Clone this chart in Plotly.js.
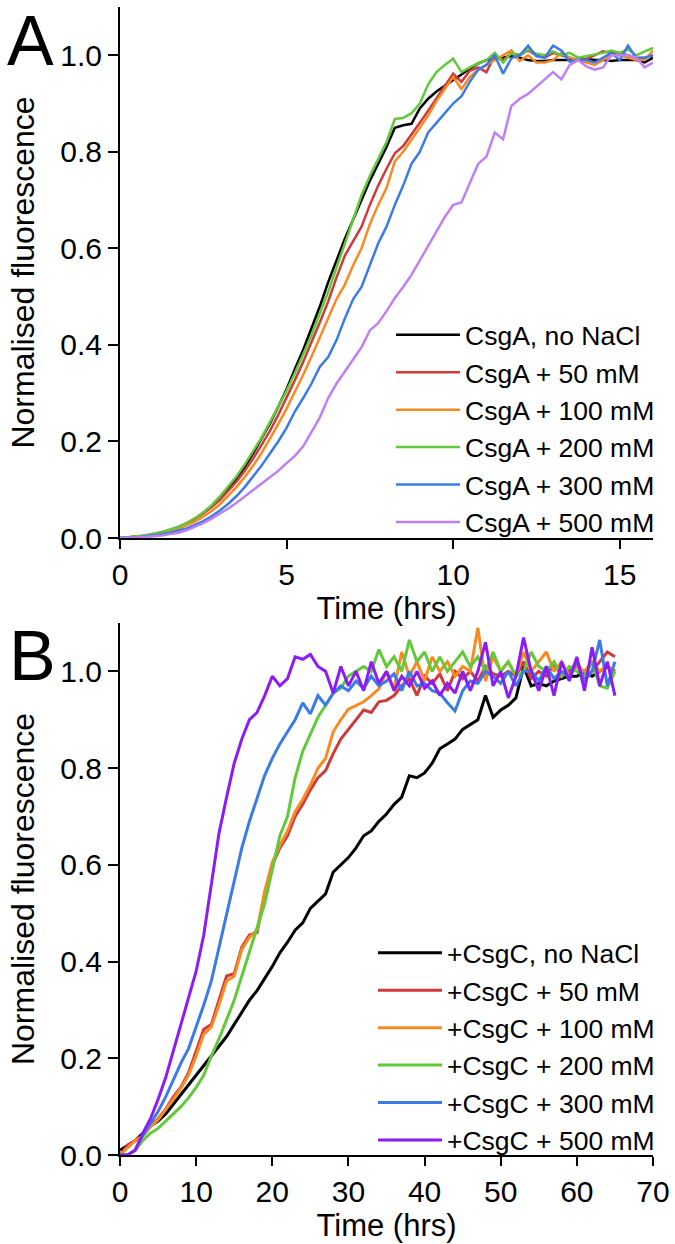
<!DOCTYPE html>
<html>
<head>
<meta charset="utf-8">
<script src="https://cdn.plot.ly/plotly-3.0.1.min.js"></script>
<style>
  body { margin: 0; background: #fff; }
  #chart { width: 675px; height: 1244px; }
</style>
</head>
<body>
<div id="chart"></div>
<script>
// ---- Panel A: CsgA with NaCl (time in hrs) ----
const timeA = [0,0.25,0.5,0.75,1,1.25,1.5,1.75,2,2.25,2.5,2.75,3,3.25,3.5,3.75,4,4.25,4.5,4.75,
  5,5.25,5.5,5.75,6,6.25,6.5,6.75,7,7.25,7.5,7.75,8,8.25,8.5,8.75,9,9.25,9.5,9.75,
  10,10.25,10.5,10.75,11,11.25,11.5,11.75,12,12.25,12.5,12.75,13,13.25,13.5,13.75,14,14.25,14.5,14.75,
  15,15.25,15.5,15.75,16];

const csgA_none = [0,0.001,0.002,0.004,0.007,0.011,0.016,0.022,0.030,0.040,
  0.052,0.066,0.083,0.102,0.123,0.148,0.176,0.205,0.237,0.272,
  0.308,0.35,0.39,0.435,0.48,0.53,0.575,0.62,0.66,0.70,
  0.74,0.775,0.81,0.85,0.855,0.858,0.89,0.91,0.925,0.937,
  0.948,0.96,0.972,0.983,0.99,0.993,0.995,0.998,0.995,0.99,
  0.988,0.988,0.99,0.99,0.99,0.99,0.992,0.99,0.99,0.988,
  0.99,0.99,0.99,0.985,0.995];
const csgA_50 = [0,0.001,0.003,0.005,0.008,0.012,0.017,0.023,0.031,0.04,
  0.051,0.064,0.079,0.097,0.117,0.14,0.165,0.193,0.222,0.255,
  0.29,0.327,0.365,0.405,0.447,0.49,0.54,0.585,0.615,0.645,
  0.69,0.73,0.765,0.797,0.812,0.835,0.86,0.885,0.91,0.935,
  0.962,0.945,0.968,0.975,0.965,1.0,0.99,1.005,1.0,1.01,
  1.0,0.995,1.005,1.0,0.995,0.99,0.992,1.0,1.008,1.005,
  1.005,1.0,0.995,0.995,1.0];
const csgA_100 = [0,0.001,0.002,0.004,0.007,0.01,0.014,0.019,0.026,0.034,
  0.044,0.056,0.07,0.087,0.106,0.127,0.15,0.176,0.205,0.236,
  0.268,0.302,0.338,0.376,0.415,0.455,0.495,0.525,0.565,0.6,
  0.65,0.69,0.725,0.78,0.80,0.825,0.851,0.875,0.905,0.93,
  0.955,0.93,0.955,0.97,0.98,0.99,1.0,1.01,0.988,1.0,
  0.985,0.985,0.99,1.005,0.995,0.99,0.985,0.98,0.99,1.0,
  1.0,0.995,0.99,0.99,1.01];
const csgA_200 = [0,0.001,0.003,0.005,0.008,0.012,0.017,0.023,0.031,0.041,
  0.053,0.068,0.086,0.106,0.128,0.153,0.18,0.208,0.24,0.272,
  0.305,0.342,0.38,0.42,0.465,0.51,0.56,0.61,0.66,0.71,
  0.75,0.785,0.82,0.868,0.87,0.88,0.90,0.94,0.965,0.98,
  0.993,0.965,0.975,0.983,0.99,1.005,0.985,1.005,1.0,1.012,
  1.003,1.0,1.008,1.0,1.005,0.995,0.998,1.002,1.005,1.01,
  1.005,1.012,1.0,1.008,1.015];
const csgA_300 = [0,0,0.001,0.003,0.005,0.008,0.011,0.015,0.02,0.027,
  0.035,0.045,0.057,0.071,0.087,0.106,0.127,0.15,0.175,0.2,
  0.228,0.262,0.29,0.32,0.355,0.375,0.41,0.455,0.495,0.52,
  0.565,0.61,0.645,0.69,0.73,0.775,0.8,0.84,0.86,0.88,
  0.90,0.915,0.945,0.97,0.98,1.0,0.962,0.994,1.0,1.02,
  0.998,0.995,1.02,1.01,0.987,0.99,0.99,0.985,0.995,1.005,
  0.99,1.02,0.994,0.995,1.0];
const csgA_500 = [0,0,0.001,0.002,0.003,0.005,0.008,0.011,0.016,0.023,
  0.031,0.04,0.05,0.061,0.073,0.086,0.1,0.113,0.126,0.139,
  0.155,0.17,0.19,0.22,0.25,0.29,0.32,0.345,0.37,0.395,
  0.43,0.445,0.47,0.497,0.52,0.545,0.575,0.605,0.635,0.665,
  0.69,0.695,0.735,0.775,0.79,0.84,0.826,0.895,0.91,0.92,
  0.935,0.95,0.965,0.95,0.98,0.99,0.977,0.97,0.975,1.0,
  1.0,1.0,0.995,0.975,0.985];

// ---- Panel B: CsgA + CsgC with NaCl ----
const timeB = [0,1,2,3,4,5,6,7,8,9,10,11,12,13,14,15,16,17,18,19,
  20,21,22,23,24,25,26,27,28,29,30,31,32,33,34,35,36,37,38,39,
  40,41,42,43,44,45,46,47,48,49,50,51,52,53,54,55,56,57,58,59,
  60,61,62,63,64,65];

const csgC_none = [0.01,0.02,0.03,0.045,0.06,0.07,0.085,0.105,0.125,0.145,
  0.165,0.185,0.205,0.225,0.245,0.27,0.295,0.32,0.34,0.365,
  0.39,0.418,0.44,0.465,0.48,0.51,0.525,0.54,0.585,0.6,
  0.615,0.635,0.66,0.67,0.69,0.705,0.725,0.74,0.784,0.78,
  0.79,0.81,0.84,0.85,0.86,0.88,0.89,0.9,0.95,0.905,
  0.92,0.93,0.945,1.01,0.97,0.975,0.97,0.98,0.985,0.99,
  0.99,1.0,0.99,1.0,1.01,1.0];
const csgC_50 = [0,0.02,0.03,0.04,0.06,0.075,0.095,0.12,0.14,0.17,
  0.215,0.26,0.27,0.32,0.37,0.375,0.43,0.455,0.46,0.54,
  0.6,0.635,0.66,0.7,0.725,0.755,0.78,0.795,0.83,0.86,
  0.88,0.9,0.92,0.915,0.937,0.94,0.95,0.97,0.985,0.95,
  0.99,0.975,0.995,0.96,1.0,0.985,1.0,0.98,1.01,0.995,
  0.99,1.0,0.99,1.02,0.985,1.0,0.99,1.015,0.99,1.0,
  1.02,0.99,1.0,1.02,1.04,1.03];
const csgC_100 = [0,0.015,0.03,0.04,0.058,0.073,0.093,0.115,0.138,0.165,
  0.205,0.25,0.265,0.31,0.36,0.37,0.425,0.45,0.465,0.545,
  0.605,0.64,0.67,0.71,0.735,0.765,0.8,0.82,0.875,0.9,
  0.922,0.93,0.937,0.95,0.964,1.0,0.964,1.04,0.99,1.02,
  0.98,1.03,1.0,1.02,0.99,1.01,1.0,1.09,0.98,1.03,
  1.0,1.02,0.99,1.04,1.0,1.02,1.04,1.0,1.02,0.99,
  1.01,1.0,1.02,1.0,1.01,1.0];
const csgC_200 = [0,0,0.01,0.03,0.045,0.055,0.07,0.085,0.1,0.118,
  0.14,0.165,0.205,0.24,0.28,0.32,0.37,0.42,0.47,0.52,
  0.59,0.66,0.70,0.78,0.835,0.87,0.905,0.93,0.955,0.965,
  0.99,1.0,1.01,1.0,1.045,1.01,1.03,1.0,1.065,1.02,
  1.04,1.0,1.03,1.0,1.02,1.04,1.01,1.03,1.0,1.04,
  1.0,1.02,0.99,1.0,1.04,1.01,1.0,1.02,0.99,1.01,
  1.0,0.99,1.02,0.97,0.965,1.0];
const csgC_300 = [0,0,0.01,0.04,0.065,0.09,0.12,0.155,0.19,0.22,
  0.265,0.31,0.36,0.43,0.5,0.57,0.635,0.69,0.74,0.785,
  0.82,0.85,0.875,0.9,0.935,0.912,0.95,0.93,0.955,0.97,
  0.96,0.98,0.965,0.99,0.97,0.98,0.995,0.96,1.0,0.97,
  0.975,0.96,0.955,0.935,0.918,0.96,0.98,0.975,1.0,0.99,
  0.975,1.0,0.97,1.0,1.0,0.98,1.01,0.985,1.0,0.99,
  1.02,0.98,1.0,1.065,0.97,1.02];
const csgC_500 = [0,0,0.01,0.045,0.075,0.115,0.16,0.215,0.27,0.32,
  0.38,0.455,0.56,0.665,0.74,0.81,0.86,0.90,0.915,0.95,
  0.99,0.97,0.985,1.03,1.025,1.035,1.01,1.0,0.955,1.01,
  0.97,1.0,0.96,1.02,0.975,1.0,0.96,0.99,0.97,1.0,
  0.965,0.98,0.95,0.975,0.955,1.0,0.96,1.0,1.06,0.97,
  1.0,0.945,0.99,1.07,1.0,0.96,1.01,0.95,1.02,0.98,
  1.03,0.96,1.05,0.97,1.02,0.95];

const namesA = ['CsgA, no NaCl', 'CsgA + 50 mM', 'CsgA + 100 mM', 'CsgA + 200 mM', 'CsgA + 300 mM', 'CsgA + 500 mM'];
const namesB = ['+CsgC, no NaCl', '+CsgC + 50 mM', '+CsgC + 100 mM', '+CsgC + 200 mM', '+CsgC + 300 mM', '+CsgC + 500 mM'];
const colorsA = ['#000000', '#cf3a3a', '#f98a22', '#62c93a', '#3b7be8', '#c07ff2'];
const colorsB = ['#000000', '#cf3a3a', '#f98a22', '#62c93a', '#3b7be8', '#8b1cf5'];
const seriesA = [csgA_none, csgA_50, csgA_100, csgA_200, csgA_300, csgA_500];
const seriesB = [csgC_none, csgC_50, csgC_100, csgC_200, csgC_300, csgC_500];

const traces = [];
seriesA.forEach((ys, i) => {
    traces.push({
        x: timeA, y: ys, type: 'scatter', mode: 'lines',
        name: namesA[i], line: { color: colorsA[i], width: 2.5 },
        xaxis: 'x', yaxis: 'y', legend: 'legend'
    });
});
seriesB.forEach((ys, i) => {
    traces.push({
        x: timeB, y: ys, type: 'scatter', mode: 'lines',
        name: namesB[i], line: { color: colorsB[i], width: 3 },
        xaxis: 'x2', yaxis: 'y2', legend: 'legend2'
    });
});

const font = 'Liberation Sans, Arial, Helvetica, sans-serif';
const W = 675, H = 1244;

function xAxis(range, tickvals, anchor) {
    return {
        domain: [120 / W, 653 / W], anchor: anchor, range: range,
        tickvals: tickvals, ticks: 'outside', ticklen: 9, tickwidth: 2, tickcolor: '#000',
        showline: true, linewidth: 2, linecolor: '#000',
        showgrid: false, zeroline: false,
        tickfont: { size: 30, color: '#000' },
        title: { text: 'Time (hrs)', font: { size: 31, color: '#000' }, standoff: 3 }
    };
}
function yAxis(top, bottom, anchor) {
    return {
        domain: [(H - bottom) / H, (H - top) / H], anchor: anchor, range: [0, 1.1],
        tickvals: [0, 0.2, 0.4, 0.6, 0.8, 1.0], tickformat: '.1f',
        ticks: 'outside', ticklen: 10, tickwidth: 2, tickcolor: '#000',
        showline: true, linewidth: 2, linecolor: '#000',
        showgrid: false, zeroline: false,
        tickfont: { size: 30, color: '#000' },
        title: { text: 'Normalised fluorescence', font: { size: 32, color: '#000' }, standoff: 16 }
    };
}

const legendCommon = {
    xanchor: 'right', yanchor: 'top', x: 660 / W,
    font: { size: 26.5, color: '#000' }, itemwidth: 64,
    bgcolor: 'rgba(0,0,0,0)', borderwidth: 0, tracegroupgap: 0
};

const layout = {
    width: W, height: H,
    margin: { l: 0, r: 0, t: 0, b: 0 },
    paper_bgcolor: '#fff', plot_bgcolor: '#fff',
    font: { family: font, color: '#000' },
    showlegend: true,
    xaxis: xAxis([0, 16], [0, 5, 10, 15], 'y'),
    yaxis: yAxis(7, 538, 'x'),
    xaxis2: xAxis([0, 70], [0, 10, 20, 30, 40, 50, 60, 70], 'y2'),
    yaxis2: yAxis(623, 1155, 'x2'),
    legend: Object.assign({}, legendCommon, { y: (H - 311) / H }),
    legend2: Object.assign({}, legendCommon, { y: (H - 929) / H }),
    annotations: [
        { text: 'A', xref: 'paper', yref: 'paper', x: 5 / W, y: 1, xanchor: 'left', yanchor: 'top',
          showarrow: false, font: { size: 70, color: '#000' } },
        { text: 'B', xref: 'paper', yref: 'paper', x: 7 / W, y: (H - 615) / H, xanchor: 'left', yanchor: 'top',
          showarrow: false, font: { size: 70, color: '#000' } }
    ]
};

Plotly.newPlot('chart', traces, layout, { staticPlot: true, displayModeBar: false });
</script>
</body>
</html>
